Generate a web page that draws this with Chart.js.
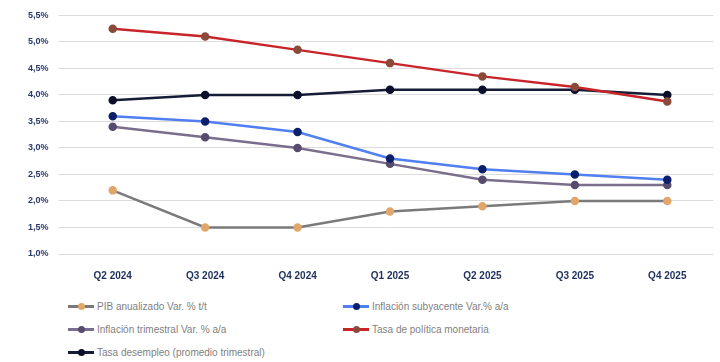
<!DOCTYPE html>
<html lang="es">
<head>
  <meta charset="UTF-8">
  <title>Indicadores trimestrales</title>
  <script src="https://cdn.jsdelivr.net/npm/chart.js"></script>
  <style>
    html, body {
      margin: 0;
      padding: 0;
      background: #fff;
      width: 720px;
      height: 362px;
      overflow: hidden;
      font-family: 'Liberation Sans Narrow', 'Liberation Sans', sans-serif;
    }
    .wrap {
      position: relative;
      width: 720px;
      height: 290px;
    }
    #legend {
      position: absolute;
      left: 68px;
      top: 299px;
      display: grid;
      grid-template-columns: 275px 275px;
      row-gap: 9px;
      font-size: 10px;
      color: #7f7f7f;
    }
    .item {
      display: flex;
      align-items: center;
      height: 14px;
      white-space: nowrap;
    }
    .swatch {
      position: relative;
      width: 26px;
      height: 3px;
      margin-right: 3px;
    }
    .swatch i {
      position: absolute;
      left: 10px;
      top: -2px;
      width: 7px;
      height: 7px;
      border-radius: 50%;
    }
  </style>
</head>
<body>
  <div class="wrap">
    <canvas id="chart" width="720" height="290"></canvas>
  </div>
  <div id="legend"></div>

  <script>
    const quarters = ['Q2 2024', 'Q3 2024', 'Q4 2024', 'Q1 2025', 'Q2 2025', 'Q3 2025', 'Q4 2025'];
    const pib = [2.2, 1.5, 1.5, 1.8, 1.9, 2.0, 2.0];
    const inflSubyacente = [3.6, 3.5, 3.3, 2.8, 2.6, 2.5, 2.4];
    const inflTrimestral = [3.4, 3.2, 3.0, 2.7, 2.4, 2.3, 2.3];
    const tasaPolitica = [5.25, 5.1, 4.85, 4.6, 4.35, 4.15, 3.875];
    const tasaDesempleo = [3.9, 4.0, 4.0, 4.1, 4.1, 4.1, 4.0];
    const yTicks = [1.0, 1.5, 2.0, 2.5, 3.0, 3.5, 4.0, 4.5, 5.0, 5.5];

    function series(label, data, line, point) {
      return {
        label: label,
        data: data,
        borderColor: line,
        backgroundColor: point,
        pointBackgroundColor: point,
        pointBorderColor: point,
        borderWidth: 2.5,
        pointRadius: 3,
        tension: 0
      };
    }

    const ctx = document.getElementById('chart').getContext('2d');
    const chart = new Chart(ctx, {
      type: 'line',
      data: {
        labels: quarters,
        datasets: [
          series('PIB anualizado Var. % t/t', pib, '#7a7a7a', '#e0a66a'),
          series('Inflación subyacente Var.% a/a', inflSubyacente, '#4f7ff0', '#0d1f6b'),
          series('Inflación trimestral Var. % a/a', inflTrimestral, '#7a6e8c', '#574b6e'),
          series('Tasa de política monetaria', tasaPolitica, '#c8252b', '#8a4a3a'),
          series('Tasa desempleo (promedio trimestral)', tasaDesempleo, '#151c36', '#0b0f2a')
        ]
      },
      options: {
        responsive: false,
        animation: false,
        layout: { padding: { top: 11, right: 4, left: 18, bottom: 0 } },
        plugins: {
          legend: { display: false },
          tooltip: { enabled: false }
        },
        scales: {
          x: {
            offset: true,
            grid: { display: false },
            border: { display: false },
            ticks: {
              color: '#1f2f5c',
              font: { family: "'Liberation Sans Narrow', 'Liberation Sans', sans-serif", size: 10, weight: 'bold' },
              padding: 8
            }
          },
          y: {
            min: 1,
            max: 5.5,
            afterBuildTicks: axis => { axis.ticks = yTicks.map(v => ({ value: v })); },
            grid: { color: '#dcdcdc', lineWidth: 1 },
            border: { display: false },
            ticks: {
              color: '#2a3a6a',
              padding: 10,
              font: { family: "'Liberation Sans Narrow', 'Liberation Sans', sans-serif", size: 9, weight: 'bold' },
              callback: v => v.toFixed(1).replace('.', ',') + '%'
            }
          }
        }
      }
    });

    // two-column legend under the chart
    const legend = document.getElementById('legend');
    chart.data.datasets.forEach(ds => {
      const item = document.createElement('div');
      item.className = 'item';
      item.innerHTML = `<span class="swatch" style="background:${ds.borderColor}"><i style="background:${ds.pointBackgroundColor}"></i></span>${ds.label}`;
      legend.appendChild(item);
    });
  </script>
</body>
</html>
